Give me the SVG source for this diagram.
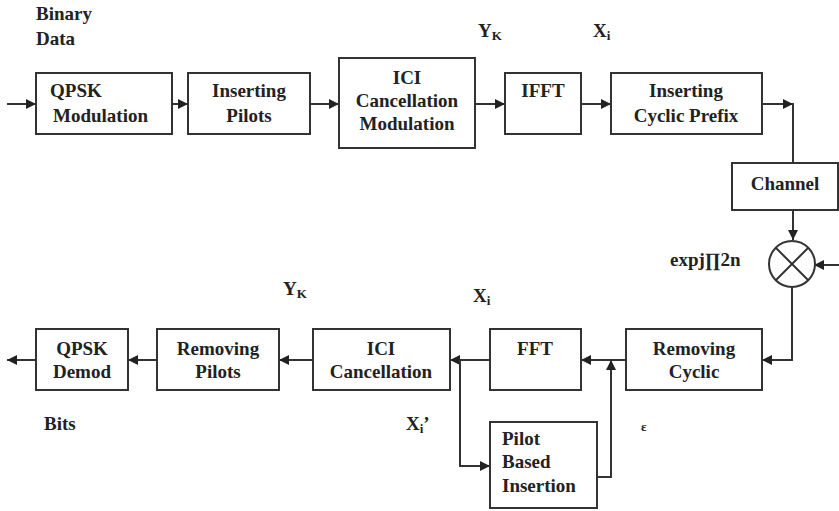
<svg xmlns="http://www.w3.org/2000/svg" width="839" height="511" viewBox="0 0 839 511">
<style>
.box{fill:#fff;stroke:#333;stroke-width:2}
.t{font-family:'Liberation Serif','DejaVu Serif',serif;font-weight:bold;font-size:19px;fill:#222}
.c{text-anchor:middle}
.ln{fill:none;stroke:#333;stroke-width:2}
.sub{font-size:13px}
</style>
<defs>
<marker id="ah" viewBox="0 0 10 10" refX="10" refY="5" markerWidth="10" markerHeight="10" markerUnits="userSpaceOnUse" orient="auto">
<path d="M0,0 L10,5 L0,10 z" fill="#222"/>
</marker>
</defs>
<rect width="839" height="511" fill="#fff"/>
<g id="connectors">
<line class="ln" x1="7" y1="104" x2="36" y2="104" marker-end="url(#ah)"/>
<line class="ln" x1="172" y1="104" x2="188" y2="104" marker-end="url(#ah)"/>
<line class="ln" x1="310" y1="104" x2="339" y2="104" marker-end="url(#ah)"/>
<line class="ln" x1="475" y1="104" x2="505" y2="104" marker-end="url(#ah)"/>
<line class="ln" x1="581" y1="104" x2="611" y2="104" marker-end="url(#ah)"/>
<line class="ln" x1="762" y1="104" x2="793" y2="104" marker-end="url(#ah)"/>
<line class="ln" x1="793" y1="103" x2="793" y2="163"/>
<line class="ln" x1="793" y1="210" x2="793" y2="240" marker-end="url(#ah)"/>
<line class="ln" x1="839" y1="265" x2="814" y2="265" marker-end="url(#ah)"/>
<polyline class="ln" points="792,287 792,360 762,360" marker-end="url(#ah)"/>
<line class="ln" x1="626" y1="360" x2="581" y2="360" marker-end="url(#ah)"/>
<line class="ln" x1="490" y1="360" x2="450" y2="360" marker-end="url(#ah)"/>
<polyline class="ln" points="460,360 460,466 490,466" marker-end="url(#ah)"/>
<polyline class="ln" points="597,477 611,477 611,360" marker-end="url(#ah)"/>
<line class="ln" x1="313" y1="360" x2="279" y2="360" marker-end="url(#ah)"/>
<line class="ln" x1="157" y1="360" x2="128" y2="360" marker-end="url(#ah)"/>
<line class="ln" x1="36" y1="360" x2="7" y2="360" marker-end="url(#ah)"/>
</g>
<g id="qpsk-mod"><rect class="box" x="36" y="73" width="136" height="61"/><text class="t" x="50" y="97">QPSK</text><text class="t" x="53" y="122">Modulation</text></g>
<g id="ins-pilots"><rect class="box" x="188" y="73" width="122" height="61"/><text class="t c" x="249" y="97">Inserting</text><text class="t c" x="249" y="122">Pilots</text></g>
<g id="ici-mod"><rect class="box" x="339" y="58" width="136" height="90"/><text class="t c" x="407" y="84">ICI</text><text class="t c" x="407" y="107">Cancellation</text><text class="t c" x="407" y="130">Modulation</text></g>
<g id="ifft"><rect class="box" x="505" y="73" width="76" height="61"/><text class="t c" x="543" y="97">IFFT</text></g>
<g id="ins-cp"><rect class="box" x="611" y="73" width="151" height="61"/><text class="t c" x="686" y="97">Inserting</text><text class="t c" x="686" y="122">Cyclic Prefix</text></g>
<g id="channel"><rect class="box" x="732" y="163" width="106" height="47"/><text class="t c" x="785" y="190">Channel</text></g>
<g id="mixer"><circle cx="792" cy="264" r="23" fill="#fff" stroke="#333" stroke-width="2"/><line class="ln" x1="776" y1="248" x2="808" y2="280"/><line class="ln" x1="808" y1="248" x2="776" y2="280"/></g>
<g id="rm-cyclic"><rect class="box" x="626" y="329" width="136" height="61"/><text class="t c" x="694" y="355">Removing</text><text class="t c" x="694" y="378">Cyclic</text></g>
<g id="fft"><rect class="box" x="490" y="329" width="91" height="61"/><text class="t c" x="535" y="355">FFT</text></g>
<g id="ici-canc"><rect class="box" x="313" y="329" width="137" height="61"/><text class="t c" x="381" y="355">ICI</text><text class="t c" x="381" y="378">Cancellation</text></g>
<g id="rm-pilots"><rect class="box" x="157" y="329" width="122" height="61"/><text class="t c" x="218" y="355">Removing</text><text class="t c" x="218" y="378">Pilots</text></g>
<g id="qpsk-demod"><rect class="box" x="36" y="329" width="92" height="61"/><text class="t c" x="82" y="355">QPSK</text><text class="t c" x="82" y="378">Demod</text></g>
<g id="pilot-ins"><rect class="box" x="490" y="422" width="107" height="86"/><text class="t" x="502" y="445">Pilot</text><text class="t" x="502" y="468">Based</text><text class="t" x="502" y="492">Insertion</text></g>
<g id="labels">
<text class="t" x="36" y="20">Binary</text>
<text class="t" x="36" y="45">Data</text>
<text class="t" x="478" y="37">Y<tspan class="sub" dy="3">K</tspan></text>
<text class="t" x="593" y="37">X<tspan class="sub" dy="3">i</tspan></text>
<text class="t" x="670" y="266">expj∏2n</text>
<text class="t" x="283" y="295">Y<tspan class="sub" dy="3">K</tspan></text>
<text class="t" x="473" y="302">X<tspan class="sub" dy="3">i</tspan></text>
<text class="t" x="406" y="430">X<tspan class="sub" dy="3">i</tspan><tspan dy="-3">’</tspan></text>
<text class="t" x="641" y="431" style="font-size:13px">ε</text>
<text class="t" x="44" y="430">Bits</text>
</g>
</svg>
